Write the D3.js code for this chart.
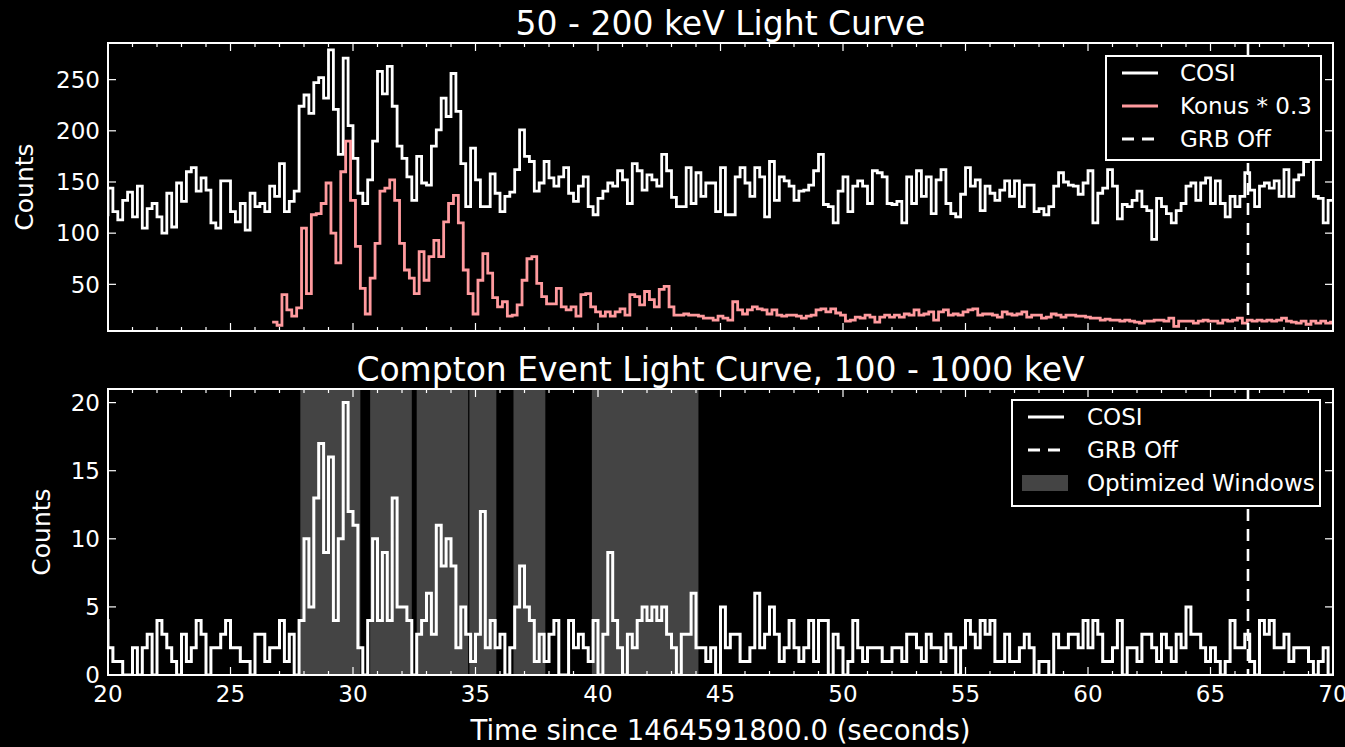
<!DOCTYPE html>
<html>
<head>
<meta charset="utf-8">
<script src="https://cdn.jsdelivr.net/npm/d3@7"></script>
<style>
  html, body { margin: 0; padding: 0; background: #000; }
  svg { display: block; }
  text { font-family: "DejaVu Sans", sans-serif; fill: #fff; }
</style>
</head>
<body>
<svg id="chart" width="1345" height="747"></svg>
<script>
// ---- data -------------------------------------------------------------
const binWidth = 0.2;

// COSI 50-200 keV counts per 0.2 s bin, first bin starts at 19.8 s
const cosiStart = 19.8;
const cosiCounts = [
  118,
  144, 121, 113, 132, 140, 116, 146, 105, 124, 129,
  116, 100, 139, 106, 149, 131, 160, 164, 141, 154,
  142, 110, 105, 151, 151, 121, 111, 129, 103, 139,
  126, 129, 121, 146, 136, 168, 121, 131, 141, 224,
  235, 217, 247, 252, 232, 279, 221, 177, 271, 205,
  173, 139, 129, 152, 190, 258, 236, 263, 224, 185,
  173, 155, 132, 175, 149, 147, 185, 201, 232, 214,
  256, 219, 168, 126, 183, 152, 126, 126, 158, 139,
  121, 136, 140, 162, 201, 175, 170, 141, 149, 170,
  154, 146, 155, 164, 139, 131, 146, 155, 126, 118,
  134, 141, 149, 146, 161, 152, 129, 168, 161, 142,
  157, 152, 146, 177, 161, 135, 126, 126, 164, 129,
  159, 136, 149, 149, 121, 164, 118, 118, 155, 164,
  149, 136, 164, 155, 116, 170, 132, 155, 151, 146,
  132, 141, 142, 147, 161, 177, 128, 126, 110, 141,
  155, 121, 146, 151, 146, 129, 161, 159, 155, 129,
  128, 131, 110, 155, 129, 161, 136, 155, 119, 152,
  162, 129, 119, 116, 138, 164, 146, 152, 122, 146,
  139, 132, 142, 151, 136, 151, 126, 147, 147, 121,
  124, 118, 126, 146, 159, 150, 147, 146, 138, 149,
  161, 110, 139, 144, 162, 146, 114, 128, 126, 132,
  141, 126, 122, 94, 134, 126, 119, 110, 122, 129,
  146, 149, 132, 149, 154, 129, 151, 129, 116, 136,
  126, 136, 159, 142, 126, 146, 149, 144, 151, 136,
  162, 136, 152, 157, 170, 172, 136, 134, 110, 132
];

// Konus-Wind counts scaled by 0.3, 0.2 s bins from 26.7 s
const konusStart = 26.7;
const konusScaled = [
  13, 10, 40, 25, 19, 27, 105, 41, 118, 119,
  129, 149, 100, 71, 160, 190, 132, 87, 46, 21,
  56, 90, 141, 144, 152, 132, 90, 64, 56, 41,
  82, 54, 77, 93, 77, 111, 129, 137, 110, 64,
  41, 21, 54, 80, 61, 37, 28, 33, 19, 20,
  30, 54, 75, 77, 51, 38, 31, 31, 46, 28,
  25, 28, 19, 40, 41, 28, 23, 19, 23, 19,
  23, 26, 20, 40, 38, 30, 43, 35, 28, 45,
  48, 28, 20, 20, 21, 20, 20, 19, 17, 17,
  15, 19, 17, 15, 33, 25, 21, 25, 28, 26,
  25, 21, 25, 20, 19, 20, 20, 19, 17, 19,
  20, 25, 26, 23, 26, 22, 20, 14, 15, 18,
  17, 20, 18, 13, 18, 20, 18, 20, 18, 21,
  20, 25, 20, 21, 23, 15, 23, 25, 20, 21,
  20, 23, 25, 26, 20, 21, 21, 20, 18, 23,
  21, 20, 21, 23, 18, 20, 20, 17, 18, 21,
  20, 18, 20, 20, 19, 19, 18, 17, 17, 15,
  16, 15, 15, 14, 15, 14, 13, 12, 14, 14,
  15, 15, 14, 17, 9, 14, 14, 14, 12, 14,
  15, 14, 14, 12, 15, 14, 15, 17, 12, 15,
  14, 15, 14, 15, 14, 15, 17, 14, 13, 12,
  14, 11, 14, 12, 14, 12, 13
];

// Compton events 100-1000 keV per 0.2 s bin, first bin starts at 19.8 s
const comptonStart = 19.8;
const comptonCounts = [
  4,
  2, 1, 1, 0, 0, 2, 0, 2, 3, 0,
  4, 3, 2, 1, 0, 3, 1, 2, 4, 3,
  0, 2, 2, 3, 4, 2, 2, 1, 1, 0,
  3, 3, 1, 2, 2, 4, 1, 3, 0, 4,
  10, 5, 13, 17, 9, 16, 4, 10, 20, 12,
  11, 2, 0, 4, 10, 4, 9, 4, 13, 5,
  5, 4, 0, 3, 4, 6, 3, 11, 8, 10,
  8, 2, 5, 3, 1, 3, 12, 2, 4, 2,
  3, 0, 2, 5, 8, 5, 4, 1, 3, 1,
  3, 4, 0, 0, 4, 2, 3, 2, 1, 4,
  0, 3, 9, 4, 2, 0, 3, 2, 4, 5,
  4, 5, 4, 5, 3, 2, 0, 3, 3, 6,
  2, 2, 1, 2, 0, 5, 2, 3, 3, 1,
  1, 2, 6, 2, 3, 5, 3, 1, 2, 4,
  2, 1, 2, 4, 1, 4, 4, 0, 3, 2,
  0, 1, 4, 2, 1, 2, 2, 2, 1, 1,
  2, 2, 1, 3, 3, 2, 1, 3, 2, 2,
  1, 3, 2, 0, 2, 4, 3, 2, 4, 3,
  4, 1, 1, 3, 1, 1, 2, 3, 2, 0,
  1, 1, 0, 3, 2, 2, 3, 3, 2, 4,
  2, 4, 3, 1, 1, 2, 4, 0, 2, 2,
  1, 3, 3, 2, 1, 3, 2, 1, 3, 2,
  5, 3, 3, 2, 1, 2, 1, 0, 1, 4,
  2, 2, 3, 1, 0, 4, 3, 4, 2, 2,
  3, 1, 2, 2, 2, 1, 0, 1, 2, 0
];

// Optimized source windows [start, end] in seconds
const windowStarts = [27.85, 30.70, 32.60, 34.75, 36.55, 39.75];
const windowEnds   = [30.30, 32.40, 34.70, 35.85, 37.85, 44.10];

const grbOff = 66.53;

const xTickValues = [20, 25, 30, 35, 40, 45, 50, 55, 60, 65, 70];
const topYTickValues = [50, 100, 150, 200, 250];
const bottomYTickValues = [0, 5, 10, 15, 20];

// ---- layout -----------------------------------------------------------
const svg = d3.select("#chart");
svg.append("rect").attr("width", 1345).attr("height", 747).attr("fill", "#000");

const plotLeft = 108, plotRight = 1333;
const topPanel = { top: 43, bottom: 331, domain: [4.4, 285.8] };
const botPanel = { top: 389, bottom: 675, domain: [0, 21] };

const x = d3.scaleLinear().domain([20, 70]).range([plotLeft, plotRight]);
const yTop = d3.scaleLinear().domain(topPanel.domain).range([topPanel.bottom, topPanel.top]);
const yBot = d3.scaleLinear().domain(botPanel.domain).range([botPanel.bottom, botPanel.top]);

const WHITE = "#ffffff";
const PINK = "#ff9a9e";
const WINDOW_GREY = "#444444";
const LINE_W = 2.8;

function stepPoints(start, values) {
  const pts = values.map((v, i) => [start + i * binWidth, v]);
  pts.push([start + values.length * binWidth, values[values.length - 1]]);
  return pts;
}

const defs = svg.append("defs");
function clipFor(id, panel) {
  defs.append("clipPath").attr("id", id)
    .append("rect")
    .attr("x", plotLeft).attr("y", panel.top)
    .attr("width", plotRight - plotLeft).attr("height", panel.bottom - panel.top);
  return "url(#" + id + ")";
}
const topClip = clipFor("clip-top", topPanel);
const botClip = clipFor("clip-bot", botPanel);

function drawFrame(g, panel, y, yTicks) {
  // x ticks on bottom and top spines: minor each second, major each 5 s
  const minor = d3.range(20, 71, 1).filter(v => v % 5 !== 0);
  const tickG = g.append("g").attr("stroke", WHITE).attr("stroke-width", 1.2);
  minor.forEach(v => {
    tickG.append("line").attr("x1", x(v)).attr("x2", x(v)).attr("y1", panel.bottom).attr("y2", panel.bottom - 4);
    tickG.append("line").attr("x1", x(v)).attr("x2", x(v)).attr("y1", panel.top).attr("y2", panel.top + 4);
  });
  xTickValues.forEach(v => {
    tickG.append("line").attr("x1", x(v)).attr("x2", x(v)).attr("y1", panel.bottom).attr("y2", panel.bottom - 8);
    tickG.append("line").attr("x1", x(v)).attr("x2", x(v)).attr("y1", panel.top).attr("y2", panel.top + 8);
  });
  yTicks.forEach(v => {
    tickG.append("line").attr("x1", plotLeft).attr("x2", plotLeft + 8).attr("y1", y(v)).attr("y2", y(v));
    tickG.append("line").attr("x1", plotRight).attr("x2", plotRight - 8).attr("y1", y(v)).attr("y2", y(v));
  });
  g.append("rect")
    .attr("x", plotLeft).attr("y", panel.top)
    .attr("width", plotRight - plotLeft).attr("height", panel.bottom - panel.top)
    .attr("fill", "none").attr("stroke", WHITE).attr("stroke-width", 2);
  // y tick labels
  g.append("g").selectAll("text").data(yTicks).join("text")
    .attr("x", plotLeft - 8).attr("y", d => y(d)).attr("dy", "0.36em")
    .attr("text-anchor", "end").attr("font-size", 23).text(d => d);
}

const stepLine = (y) => d3.line().x(d => x(d[0])).y(d => y(d[1])).curve(d3.curveStepAfter);

// ---- top panel: 50-200 keV light curve --------------------------------
const gTop = svg.append("g");
gTop.append("path")
  .attr("clip-path", topClip)
  .attr("d", stepLine(yTop)(stepPoints(cosiStart, cosiCounts)))
  .attr("fill", "none").attr("stroke", WHITE).attr("stroke-width", LINE_W);
gTop.append("path")
  .attr("clip-path", topClip)
  .attr("d", stepLine(yTop)(stepPoints(konusStart, konusScaled)))
  .attr("fill", "none").attr("stroke", PINK).attr("stroke-width", LINE_W);
gTop.append("line")
  .attr("x1", x(grbOff)).attr("x2", x(grbOff))
  .attr("y1", topPanel.top).attr("y2", topPanel.bottom)
  .attr("stroke", WHITE).attr("stroke-width", 2.6).attr("stroke-dasharray", "12,8");
drawFrame(gTop, topPanel, yTop, topYTickValues);

svg.append("text").attr("x", 720.5).attr("y", 35).attr("text-anchor", "middle")
  .attr("font-size", 33).text("50 - 200 keV Light Curve");
svg.append("text")
  .attr("transform", "translate(33," + (topPanel.top + topPanel.bottom) / 2 + ") rotate(-90)")
  .attr("text-anchor", "middle").attr("font-size", 25).text("Counts");

// ---- bottom panel: Compton event light curve --------------------------
const gBot = svg.append("g");
gBot.append("g").attr("clip-path", botClip).selectAll("rect")
  .data(d3.zip(windowStarts, windowEnds)).join("rect")
  .attr("x", d => x(d[0])).attr("width", d => x(d[1]) - x(d[0]))
  .attr("y", botPanel.top).attr("height", botPanel.bottom - botPanel.top)
  .attr("fill", WINDOW_GREY);
gBot.append("path")
  .attr("clip-path", botClip)
  .attr("d", stepLine(yBot)(stepPoints(comptonStart, comptonCounts)))
  .attr("fill", "none").attr("stroke", WHITE).attr("stroke-width", 3);
gBot.append("line")
  .attr("x1", x(grbOff)).attr("x2", x(grbOff))
  .attr("y1", botPanel.top).attr("y2", botPanel.bottom)
  .attr("stroke", WHITE).attr("stroke-width", 2.6).attr("stroke-dasharray", "12,8");
drawFrame(gBot, botPanel, yBot, bottomYTickValues);

// x tick labels under bottom panel
gBot.append("g").selectAll("text").data(xTickValues).join("text")
  .attr("x", d => x(d)).attr("y", botPanel.bottom + 27)
  .attr("text-anchor", "middle").attr("font-size", 23).text(d => d);

svg.append("text").attr("x", 720.5).attr("y", 381).attr("text-anchor", "middle")
  .attr("font-size", 33).text("Compton Event Light Curve, 100 - 1000 keV");
svg.append("text")
  .attr("transform", "translate(50," + (botPanel.top + botPanel.bottom) / 2 + ") rotate(-90)")
  .attr("text-anchor", "middle").attr("font-size", 25).text("Counts");
svg.append("text").attr("x", 720.5).attr("y", 740).attr("text-anchor", "middle")
  .attr("font-size", 27.5).text("Time since 1464591800.0 (seconds)");

// ---- legends ----------------------------------------------------------
function legend(box, items) {
  const g = svg.append("g");
  g.append("rect").attr("x", box.x).attr("y", box.y).attr("width", box.w).attr("height", box.h)
    .attr("fill", "#000").attr("stroke", WHITE).attr("stroke-width", 2);
  items.forEach((it, i) => {
    const cy = box.y + 17 + i * 33;
    if (it.kind === "patch") {
      g.append("rect").attr("x", box.x + 10).attr("y", cy - 8).attr("width", 46).attr("height", 16)
        .attr("fill", it.color);
    } else {
      g.append("line").attr("x1", box.x + 16).attr("x2", box.x + 52).attr("y1", cy).attr("y2", cy)
        .attr("stroke", it.color).attr("stroke-width", 2.8)
        .attr("stroke-dasharray", it.kind === "dash" ? "12,8" : null);
    }
    g.append("text").attr("x", box.x + box.textDx).attr("y", cy).attr("dy", "0.36em")
      .attr("font-size", 23).text(it.label);
  });
}
legend({ x: 1106, y: 56, w: 215, h: 104, textDx: 74 }, [
  { kind: "line", color: WHITE, label: "COSI" },
  { kind: "line", color: PINK, label: "Konus * 0.3" },
  { kind: "dash", color: WHITE, label: "GRB Off" }
]);
legend({ x: 1012, y: 400, w: 308, h: 106, textDx: 75 }, [
  { kind: "line", color: WHITE, label: "COSI" },
  { kind: "dash", color: WHITE, label: "GRB Off" },
  { kind: "patch", color: WINDOW_GREY, label: "Optimized Windows" }
]);
</script>
</body>
</html>
